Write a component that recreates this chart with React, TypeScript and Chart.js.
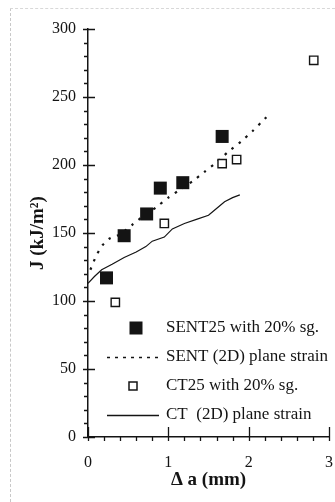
import React, { useEffect, useRef } from 'react';
import { Chart, registerables } from 'chart.js';

Chart.register(...registerables);

// ---- data ----
const sent25X = [0.23, 0.45, 0.73, 0.9, 1.18, 1.67];
const sent25Y = [117, 148, 164, 183, 187, 221];

const ct25X = [0.34, 0.95, 1.67, 1.85, 2.81];
const ct25Y = [99, 157, 201, 204, 277];

const sentLineX = [0.03, 0.1, 0.18, 0.27, 0.4, 0.55, 0.7, 0.85, 1.0, 1.15, 1.3, 1.45, 1.6, 1.75, 1.9, 2.05, 2.2, 2.27];
const sentLineY = [123, 133, 141, 146, 149, 156, 163, 169, 176, 182, 188, 195, 202, 210, 217, 225, 234, 238];

const ctLineX = [0, 0.08, 0.17, 0.3, 0.45, 0.6, 0.72, 0.8, 0.95, 1.05, 1.2, 1.35, 1.5, 1.6, 1.7, 1.8, 1.89];
const ctLineY = [113, 118, 123, 127, 132, 136, 140, 144, 147, 153, 157, 160, 163, 168, 173, 176, 178];

const xMajorTicks = [0, 1, 2, 3];
const yMajorTicks = [0, 50, 100, 150, 200, 250, 300];
const xMinorStep = 0.2;
const yMinorStep = 10;

const legendLabels = [
  'SENT25 with 20% sg.',
  'SENT (2D) plane strain',
  'CT25 with 20% sg.',
  'CT  (2D) plane strain',
];

const xTitle = '\u0394 a (mm)';
const yTitle = 'J (kJ/m\u00B2)';

const INK = '#141414';
const SERIF = '"Liberation Serif", "Times New Roman", serif';

const toPts = (xs: number[], ys: number[]) => xs.map((x, i) => ({ x, y: ys[i] }));

const axisTicksPlugin = {
  id: 'axisTicks',
  afterDraw(chart: any) {
    const { ctx, chartArea, scales } = chart;
    const xs = scales.x;
    const ys = scales.y;
    const left = chartArea.left;
    const bottom = chartArea.bottom;
    ctx.save();
    ctx.strokeStyle = INK;
    ctx.lineWidth = 1.3;
    ctx.beginPath();
    const yMax = yMajorTicks[yMajorTicks.length - 1];
    for (let v = 0; v <= yMax + 1e-9; v += yMinorStep) {
      const p = Math.round(ys.getPixelForValue(v)) + 0.5;
      const major = yMajorTicks.some((t) => Math.abs(t - v) < 1e-6);
      if (major) {
        ctx.moveTo(left - 5, p);
        ctx.lineTo(left + 7, p);
      } else {
        ctx.moveTo(left - 4, p);
        ctx.lineTo(left, p);
      }
    }
    const xMax = xMajorTicks[xMajorTicks.length - 1];
    for (let v = 0; v <= xMax + 1e-9; v += xMinorStep) {
      const p = Math.round(xs.getPixelForValue(v)) + 0.5;
      const major = xMajorTicks.some((t) => Math.abs(t - v) < 1e-6);
      if (major) {
        ctx.moveTo(p, bottom - 10);
        ctx.lineTo(p, bottom + 4);
      } else {
        ctx.moveTo(p, bottom);
        ctx.lineTo(p, bottom + 4);
      }
    }
    ctx.stroke();
    ctx.restore();
  },
};

const legendPlugin = {
  id: 'customLegend',
  afterDraw(chart: any) {
    const { ctx } = chart;
    ctx.save();
    ctx.font = `17px ${SERIF}`;
    ctx.fillStyle = INK;
    ctx.textAlign = 'left';
    ctx.textBaseline = 'middle';
    const textX = 166;
    const rows = [328, 357, 386, 415];
    ctx.fillRect(136 - 6.5, rows[0] - 6.5, 13, 13);
    ctx.strokeStyle = INK;
    ctx.lineWidth = 1.3;
    ctx.setLineDash([3, 5]);
    ctx.beginPath();
    ctx.moveTo(107, rows[1] + 0.5);
    ctx.lineTo(159, rows[1] + 0.5);
    ctx.stroke();
    ctx.setLineDash([]);
    ctx.lineWidth = 1.5;
    ctx.strokeRect(133 - 4, rows[2] - 4, 8, 8);
    ctx.lineWidth = 1.3;
    ctx.beginPath();
    ctx.moveTo(107, rows[3] + 0.5);
    ctx.lineTo(159, rows[3] + 0.5);
    ctx.stroke();
    legendLabels.forEach((t, i) => ctx.fillText(t, textX, rows[i]));
    ctx.restore();
  },
};

export default function App() {
  const ref = useRef<HTMLCanvasElement | null>(null);

  useEffect(() => {
    if (!ref.current) return;
    const chart = new Chart(ref.current, {
      type: 'scatter',
      data: {
        datasets: [
          {
            label: legendLabels[0],
            data: toPts(sent25X, sent25Y),
            pointStyle: 'rect',
            pointRadius: 9.2,
            backgroundColor: INK,
            borderColor: INK,
            borderWidth: 0,
            showLine: false,
            clip: false,
          },
          {
            label: legendLabels[2],
            data: toPts(ct25X, ct25Y),
            pointStyle: 'rect',
            pointRadius: 5.9,
            backgroundColor: '#ffffff',
            borderColor: INK,
            borderWidth: 1.4,
            showLine: false,
            clip: false,
          },
          {
            label: legendLabels[1],
            data: toPts(sentLineX, sentLineY),
            showLine: true,
            pointRadius: 0,
            borderColor: INK,
            borderWidth: 2.2,
            borderDash: [2.5, 6.5],
            tension: 0.2,
            fill: false,
          },
          {
            label: legendLabels[3],
            data: toPts(ctLineX, ctLineY),
            showLine: true,
            pointRadius: 0,
            borderColor: INK,
            borderWidth: 1.2,
            tension: 0,
            fill: false,
          },
        ],
      },
      options: {
        responsive: false,
        animation: false,
        devicePixelRatio: 1,
        layout: { autoPadding: false, padding: { top: 29, right: 6, left: 0, bottom: 0 } },
        plugins: {
          legend: { display: false },
          tooltip: { enabled: false },
        },
        scales: {
          x: {
            type: 'linear',
            min: 0,
            max: 3,
            afterFit: (s: any) => {
              s.height = 65;
              s.paddingLeft = 0;
              s.paddingRight = 0;
            },
            afterBuildTicks: (s: any) => {
              s.ticks = xMajorTicks.map((v) => ({ value: v }));
            },
            ticks: {
              font: { family: SERIF, size: 16 },
              color: INK,
              padding: 16,
              maxRotation: 0,
            },
            grid: { display: true, drawOnChartArea: false, drawTicks: false },
            border: { display: true, color: INK, width: 1.5 },
            title: {
              display: true,
              text: xTitle,
              color: INK,
              font: { family: SERIF, size: 19, weight: 'bold' },
              padding: { top: 0, bottom: 10.6 },
            },
          },
          y: {
            type: 'linear',
            min: 0,
            max: 300,
            afterFit: (s: any) => {
              s.width = 88;
              s.paddingTop = 0;
              s.paddingBottom = 0;
            },
            afterBuildTicks: (s: any) => {
              s.ticks = yMajorTicks.map((v) => ({ value: v }));
            },
            ticks: {
              font: { family: SERIF, size: 16 },
              color: INK,
              padding: 12,
            },
            grid: { display: true, drawOnChartArea: false, drawTicks: false },
            border: { display: true, color: INK, width: 1.5 },
            title: {
              display: true,
              text: yTitle,
              color: INK,
              font: { family: SERIF, size: 19, weight: 'bold' },
              padding: { top: 26.6, bottom: 0 },
            },
          },
        },
      },
      plugins: [axisTicksPlugin, legendPlugin],
    });
    return () => chart.destroy();
  }, []);

  return (
    <div style={{ position: 'absolute', left: 0, top: 0, width: 335, height: 502, background: '#fff', overflow: 'hidden' }}>
      <div
        style={{
          position: 'absolute',
          left: 10,
          top: 8,
          width: 325,
          height: 494,
          borderLeft: '1px dashed #c8c8c8',
          borderTop: '1px dashed #d8d8d8',
          boxSizing: 'border-box',
        }}
      />
      <canvas ref={ref} width={335} height={502} style={{ position: 'absolute', left: 0, top: 0, width: 335, height: 502 }} />
    </div>
  );
}
